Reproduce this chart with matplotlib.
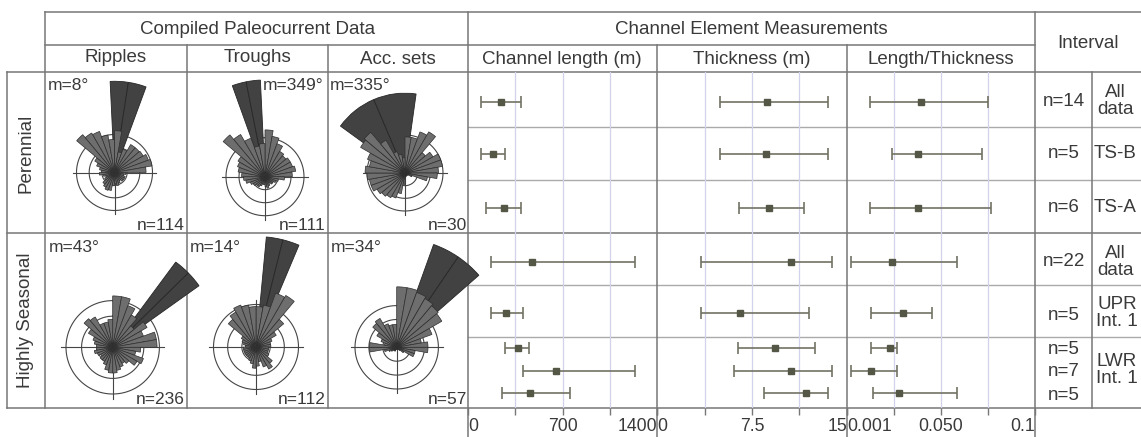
import matplotlib.pyplot as plt
import numpy as np

plt.rcParams['font.family'] = ['Liberation Sans', 'DejaVu Sans']

W, H = 1141, 437
txt_col = '#3a3a3a'
line_col = '#777777'
sub_col = '#aaaaaa'

# Channel element measurements: min / mean / max per interval row
length_min = [97, 97, 135, 172, 172, 277, 404, 255]
length_mean = [247, 187, 270, 472, 284, 367, 651, 457]
length_max = [389, 277, 389, 1235, 404, 449, 1235, 756]
thick_min = [4.97, 4.97, 6.5, 3.47, 3.47, 6.4, 6.1, 8.45]
thick_mean = [8.68, 8.6, 8.84, 10.6, 6.55, 9.3, 10.6, 11.8]
thick_max = [13.5, 13.5, 11.6, 13.8, 12.0, 12.5, 13.8, 13.5]
ratio_min = [0.0122, 0.024, 0.0122, 0.002, 0.0128, 0.0128, 0.002, 0.0138]
ratio_mean = [0.0394, 0.038, 0.038, 0.024, 0.030, 0.0229, 0.0128, 0.0277]
ratio_max = [0.075, 0.072, 0.0766, 0.0585, 0.045, 0.0266, 0.0266, 0.0585]
n_counts = ['n=14', 'n=5', 'n=6', 'n=22', 'n=5', 'n=5', 'n=7', 'n=5']
interval_names = ['All\ndata', 'TS-B', 'TS-A', 'All\ndata', 'UPR\nInt. 1', 'LWR\nInt. 1']

# Paleocurrent roses: 10 degree bins starting at north, length relative to outer circle
bin_centers = np.arange(5, 360, 10)
rip_per = [1.1, 0.55, 0.65, 0.85, 0.85, 0.87, 0.95, 1.0, 0.83, 0.3, 0.25, 0.3,
           0.3, 0.3, 0.25, 0.3, 0.35, 0.3, 0.35, 0.48, 0.5, 0.45, 0.4, 0.3,
           0.25, 0.3, 0.4, 0.35, 0.4, 0.5, 0.6, 1.3, 1.2, 1.15, 1.0, 0.87]
tro_per = [1.2, 1.05, 0.9, 0.75, 0.7, 0.75, 0.75, 0.8, 0.7, 0.5, 0.35, 0.3,
           0.25, 0.25, 0.2, 0.25, 0.3, 0.25, 0.2, 0.2, 0.25, 0.3, 0.3, 0.35,
           0.4, 0.5, 0.55, 0.6, 0.7, 0.75, 0.8, 1.4, 1.25, 1.05, 0.8, 0.85]
acc_per = [0.95, 0.95, 1.15, 1.25, 0.7, 0.85, 1.0, 1.0, 0.88, 0.85, 0.6, 0.2,
           0.1, 0.08, 0.08, 0.08, 0.1, 0.1, 0.3, 0.55, 0.7, 0.75, 0.8, 0.85,
           0.95, 0.95, 1.0, 1.05, 0.95, 1.05, 1.35, 1.4, 1.0, 0.6, 0.5, 0.4]
rip_sea = [1.1, 1.1, 0.95, 0.8, 0.6, 0.85, 0.7, 0.95, 0.95, 0.6, 0.5, 0.7,
           0.6, 0.45, 0.4, 0.45, 0.5, 0.55, 0.55, 0.5, 0.4, 0.35, 0.35, 0.3,
           0.35, 0.4, 0.35, 0.35, 0.4, 0.45, 0.6, 0.8, 0.75, 0.55, 0.55, 0.6]
tro_sea = [0.95, 1.0, 1.35, 1.4, 0.85, 0.55, 0.4, 0.35, 0.35, 0.3, 0.3, 0.3,
           0.35, 0.5, 0.6, 0.5, 0.35, 0.45, 0.5, 0.4, 0.35, 0.3, 0.3, 0.3,
           0.3, 0.3, 0.3, 0.25, 0.3, 0.35, 0.4, 0.85, 0.95, 1.05, 1.0, 0.95]
acc_sea = [1.45, 1.45, 1.4, 1.35, 1.3, 1.25, 0.9, 0.6, 0.75, 0.75, 0.45, 0.45,
           0.2, 0.1, 0.05, 0.05, 0.05, 0.05, 0.05, 0.05, 0.1, 0.1, 0.1, 0.15,
           0.2, 0.3, 0.65, 0.65, 0.3, 0.4, 0.55, 0.75, 0.8, 0.6, 0.55, 0.55]
rose_values = [rip_per, tro_per, acc_per, rip_sea, tro_sea, acc_sea]
# dominant (dark) petals: centre directions, width, length
dark_dirs = [[3, 14.5], [-15.5, -7], [321.5, 352.5], [41, 50], [9.75, 18.5], [27, 41.5]]
dark_width = [11.5, 8.5, 31, 9, 8.75, 14.5]
dark_len = [2.4, 2.48, 2.1, 2.27, 2.6, 2.62]
m_labels = ['m=8°', 'm=349°', 'm=335°', 'm=43°', 'm=14°', 'm=34°']
n_labels = ['n=114', 'n=111', 'n=30', 'n=236', 'n=112', 'n=57']

fig = plt.figure(figsize=(W / 100, H / 100), dpi=100)
bg = fig.add_axes([0, 0, 1, 1])
bg.set_xlim(0, W)
bg.set_ylim(H, 0)
bg.axis('off')

# table grid
for y, x0, x1 in [(12, 45, W), (45, 45, 1035), (72, 7, W), (233, 7, W), (408, 7, W)]:
    bg.plot([x0, x1], [y, y], color=line_col, lw=1.1)
for y in [127, 180, 285, 337]:
    bg.plot([468, W], [y, y], color=sub_col, lw=1.0)
for x, y0, y1 in [(7, 72, 408), (45, 12, 408), (187, 45, 408), (328, 45, 408),
                  (468, 12, H), (657, 45, H), (847, 45, H), (1035, 12, H), (1092, 72, 408)]:
    bg.plot([x, x], [y0, y1], color=line_col, lw=1.1)

fs_head = 13.5
bg.text(258, 29, 'Compiled Paleocurrent Data', ha='center', va='center', fontsize=fs_head, color=txt_col)
bg.text(751, 29, 'Channel Element Measurements', ha='center', va='center', fontsize=fs_head, color=txt_col)
bg.text(1088, 43, 'Interval', ha='center', va='center', fontsize=fs_head, color=txt_col)
for x, y, s in [(116, 58, 'Ripples'), (258, 57, 'Troughs'), (398, 60, 'Acc. sets'),
                (562, 59, 'Channel length (m)'), (752, 59, 'Thickness (m)'), (941, 59, 'Length/Thickness')]:
    bg.text(x, y, s, ha='center', va='center', fontsize=fs_head, color=txt_col)
bg.text(26, 153, 'Perennial', rotation=90, ha='center', va='center', fontsize=fs_head, color=txt_col)
bg.text(26, 320, 'Highly Seasonal', rotation=90, ha='center', va='center', fontsize=fs_head, color=txt_col)

row_y = [102, 154, 208, 262, 313, 348, 371, 393]
n_y = [102, 154, 208, 262, 316, 350, 372, 395]
for s, y in zip(n_counts, n_y):
    bg.text(1064, y, s, ha='center', va='center', fontsize=13.5, color=txt_col)
name_y = [101, 154, 208, 262, 313, 370]
name_x = [1097, 1094, 1094, 1097, 1096, 1096]
for s, x, y in zip(interval_names, name_x, name_y):
    bg.text(x, y, s, ha='left', va='center', fontsize=13.5, color=txt_col, linespacing=0.95,
            multialignment='center')

# rose diagrams
rose_cx = [114.5, 265, 405, 112.7, 256, 396.7]
rose_cy = [172.5, 176.7, 173, 347.3, 347, 347.3]
rose_r = [38, 39, 38, 46.7, 42.5, 41.7]
m_x = [48, 263, 330, 49, 190, 331]
m_y = [85, 85, 85, 247, 247, 247]
n_x = [185, 326, 467, 185, 326, 467]
n_y_rose = [225, 225, 225, 399, 399, 399]
for i in range(6):
    cx, cy, r = rose_cx[i], rose_cy[i], rose_r[i]
    ax = fig.add_axes([(cx - r) / W, 1 - (cy + r) / H, 2 * r / W, 2 * r / H], projection='polar')
    ax.set_theta_zero_location('N')
    ax.set_theta_direction(-1)
    ax.set_ylim(0, 1)
    ax.axis('off')
    t = np.linspace(0, 2 * np.pi, 200)
    for rr in (1 / 3, 2 / 3, 1.0):
        ax.plot(t, np.full_like(t, rr), color='#454545', lw=0.8, clip_on=False, zorder=1)
    for th in (0, 90, 180, 270):
        ax.plot([np.deg2rad(th)] * 2, [0, 1.1], color='#454545', lw=0.8, clip_on=False, zorder=1)
    ax.bar(np.deg2rad(dark_dirs[i]), dark_len[i], width=np.deg2rad(dark_width[i]),
           color='#424242', edgecolor='#262626', lw=0.6, clip_on=False, zorder=2)
    ax.bar(np.deg2rad(bin_centers), rose_values[i], width=np.deg2rad(10),
           color='#6e6e6e', edgecolor='#2e2e2e', lw=0.5, clip_on=False, zorder=3)
    ax.set_ylim(0, 1)
    bg.text(m_x[i], m_y[i], m_labels[i], ha='left', va='center', fontsize=12.5, color=txt_col)
    bg.text(n_x[i], n_y_rose[i], n_labels[i], ha='right', va='center', fontsize=12.5, color=txt_col)

# error bar columns
columns = [(468, 657, 1400, ['0', '', '700', '', '1400'], length_min, length_mean, length_max),
           (657, 847, 15, ['0', '', '7.5', '', '15'], thick_min, thick_mean, thick_max),
           (847, 1035, 0.1, ['0.001', '', '0.050', '', '0.1'], ratio_min, ratio_mean, ratio_max)]
for x0, x1, vmax, labels, lo, mid, hi in columns:
    ax = fig.add_axes([x0 / W, 1 - 408 / H, (x1 - x0) / W, (408 - 72) / H])
    ax.set_facecolor('none')
    ax.set_xlim(0, vmax)
    ax.set_ylim(408, 72)
    ticks = np.linspace(0, vmax, 5)
    for tk in ticks[1:4]:
        ax.axvline(tk, color='#d2d2ec', lw=0.9, zorder=0)
    lo, mid, hi = np.array(lo), np.array(mid), np.array(hi)
    ax.errorbar(mid, row_y, xerr=[mid - lo, hi - mid], fmt='s', color='#545646', ecolor='#727264',
                markersize=5, elinewidth=1.2, capsize=4.5, capthick=1.2, zorder=3)
    for sp in ax.spines.values():
        sp.set_visible(False)
    ax.set_yticks([])
    ax.set_xticks(ticks, labels)
    ax.tick_params(axis='x', direction='out', length=5, width=1, color=line_col,
                   labelsize=12.7, labelcolor=txt_col, pad=2)
    tl = ax.get_xticklabels()
    tl[0].set_ha('left')
    tl[-1].set_ha('right')

fig.savefig('out.png', dpi=100)
